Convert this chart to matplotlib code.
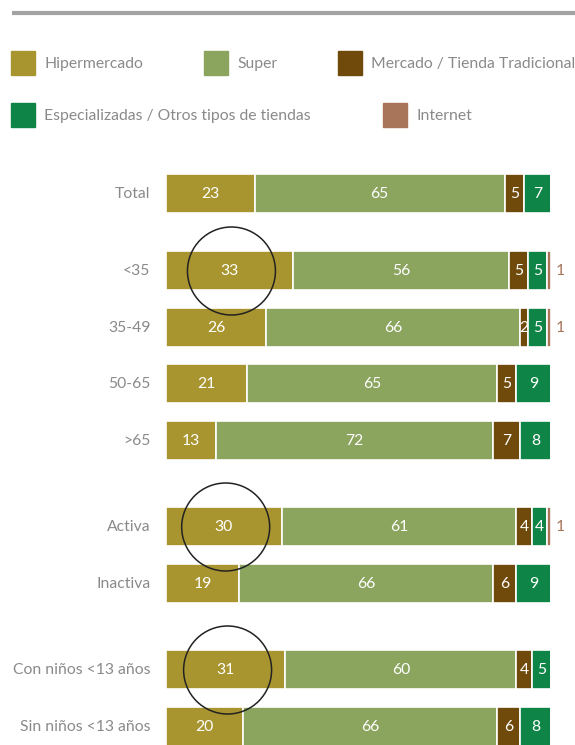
import matplotlib.pyplot as plt
from matplotlib.patches import Ellipse, Rectangle

# data
categories = ['Total', '<35', '35-49', '50-65', '>65', 'Activa', 'Inactiva',
              'Con niños <13 años', 'Sin niños <13 años']
series = ['Hipermercado', 'Super', 'Mercado / Tienda Tradicional',
          'Especializadas / Otros tipos de tiendas', 'Internet']
hiper = [23, 33, 26, 21, 13, 30, 19, 31, 20]
super_ = [65, 56, 66, 65, 72, 61, 66, 60, 66]
mercado = [5, 5, 2, 5, 7, 4, 6, 4, 6]
especial = [7, 5, 5, 9, 8, 4, 9, 5, 8]
internet = [0, 1, 1, 0, 0, 1, 0, 0, 0]
circled = ['<35', 'Activa', 'Con niños <13 años']

colors = ['#A99530', '#8BA45E', '#6F4A0B', '#0E8446', '#A8755A']
label_color = '#8a8a8a'

plt.rcParams['font.family'] = ['Lato', 'DejaVu Sans']
fs = 11.3

W, H = 575, 745
fig = plt.figure(figsize=(W / 100, H / 100), dpi=100)

# overlay in pixel coords (top-down) for line + legend
bg = fig.add_axes([0, 0, 1, 1])
bg.set_xlim(0, W)
bg.set_ylim(H, 0)
bg.axis('off')
bg.plot([12, W], [13, 13], color='#a3a3a3', lw=3, solid_capstyle='butt')

legend_pos = [(11, 63), (204, 63), (338, 63), (11, 115), (383, 115)]
for name, col, (lx, ly) in zip(series, colors, legend_pos):
    bg.add_patch(Rectangle((lx, ly - 12), 24, 24, color=col))
    bg.text(lx + 33, ly + 1, name, color=label_color, fontsize=fs, va='center', ha='left')

# bar axes: x 0..100 spans pixels 166..551, y in pixel units
x0, x1 = 166, 551
ytop, ybot = 150, 745
ax = fig.add_axes([x0 / W, 0, (x1 - x0) / W, (H - ytop) / H])
ax.set_xlim(0, 100)
ax.set_ylim(ybot, ytop)
ax.axis('off')

rows_y = [193, 270, 327, 383, 440, 526, 583, 669, 726]
bar_h = 39

values = [hiper, super_, mercado, especial, internet]
left = [0] * len(categories)
for vals, col in zip(values, colors):
    ax.barh(rows_y, vals, left=left, height=bar_h, color=col,
            edgecolor='white', linewidth=1.2)
    for i, v in enumerate(vals):
        if v == 0:
            continue
        if col == colors[4]:
            ax.text(left[i] + v + 2.3, rows_y[i] + 1, str(v), color=col,
                    fontsize=fs, ha='center', va='center')
        else:
            ax.text(left[i] + v / 2, rows_y[i] + 1, str(v), color='white',
                    fontsize=fs, ha='center', va='center')
    left = [l + v for l, v in zip(left, vals)]

for cat, y in zip(categories, rows_y):
    ax.text(-4, y + 1, cat, color=label_color, fontsize=fs, ha='right', va='center')

for cat in circled:
    i = categories.index(cat)
    ax.add_patch(Ellipse((hiper[i] / 2 + 0.5, rows_y[i] + 1), 88 / 3.85, 88,
                         fill=False, edgecolor='#222222', lw=1.1, clip_on=False))

fig.savefig('out.png', dpi=100)
